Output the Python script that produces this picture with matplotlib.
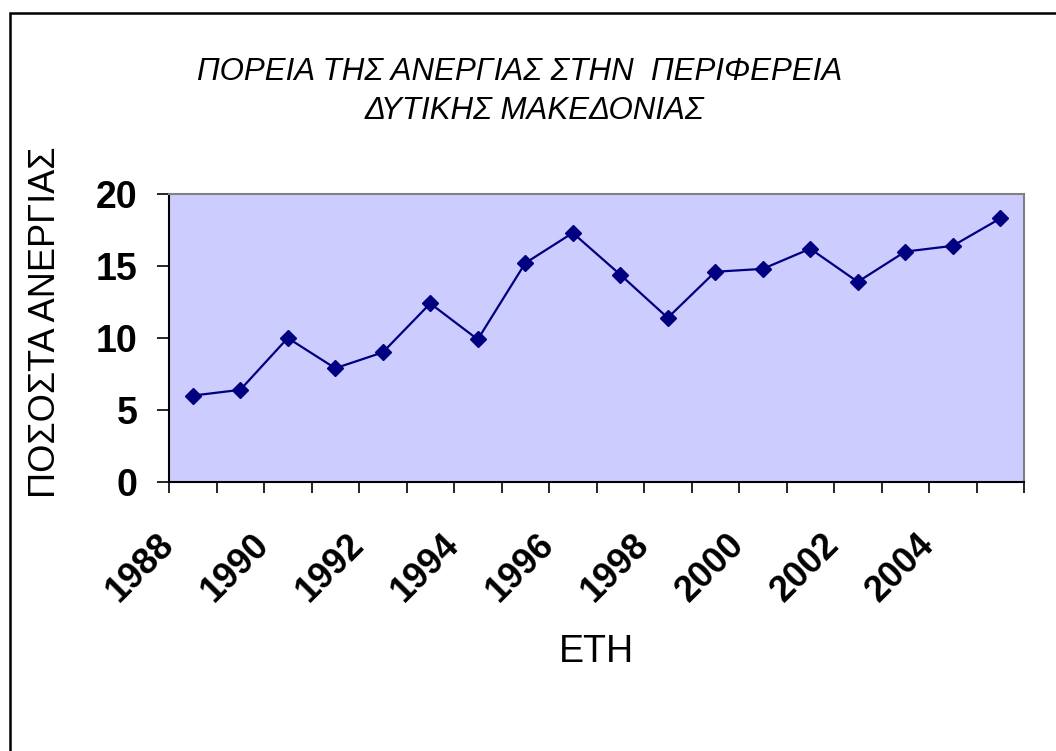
import matplotlib.pyplot as plt
from matplotlib.patches import Rectangle
from matplotlib.transforms import ScaledTranslation

plt.rcParams['font.family'] = ['Liberation Sans', 'DejaVu Sans']

years = list(range(1988, 2006))
unemployment = [6.0, 6.4, 10.0, 7.9, 9.0, 12.4, 9.9, 15.2, 17.3,
                14.4, 11.4, 14.6, 14.8, 16.2, 13.9, 16.0, 16.4, 18.3]
year_labels = [str(y) for y in years[::2]]
y_ticks = [0, 5, 10, 15, 20]

fig = plt.figure(figsize=(10.56, 7.51), dpi=100)
ax = fig.add_axes([169 / 1056, 1 - 482 / 751, 855 / 1056, 288 / 751])
ax.set_facecolor('#CCCCFF')

# categories sit between the tick marks, like an Excel category axis
xpos = [i + 0.5 for i in range(len(years))]
ax.plot(xpos, unemployment, color='#000080', lw=1.6, marker='D',
        markersize=8, markerfacecolor='#000080', markeredgecolor='#000080')

ax.set_xlim(0, len(years))
ax.set_ylim(0, 20)
ax.set_yticks(y_ticks)
ax.set_yticklabels([str(t) for t in y_ticks], fontsize=27, fontweight='bold')
ax.tick_params(axis='y', direction='out', length=8.5, width=1.2, pad=14)

ax.set_xticks(range(len(years) + 1))
ax.set_xticklabels([])
ax.tick_params(axis='x', which='major', direction='out', length=8, width=1.2)
ax.set_xticks(xpos[::2], minor=True)
ax.set_xticklabels(year_labels, minor=True, rotation=45, ha='right', va='top',
                   rotation_mode='anchor', fontsize=26, fontweight='bold')
ax.tick_params(axis='x', which='minor', length=0, pad=0)
off = ScaledTranslation(-0.36, -0.45, fig.dpi_scale_trans)
for lab in ax.get_xticklabels(minor=True):
    lab.set_transform(lab.get_transform() + off)

for side in ['left', 'bottom']:
    ax.spines[side].set_color('black')
    ax.spines[side].set_linewidth(1.5)
for side in ['top', 'right']:
    ax.spines[side].set_color('#808080')
    ax.spines[side].set_linewidth(1.5)

ax.set_ylabel('ΠΟΣΟΣΤΑ ΑΝΕΡΓΙΑΣ', fontsize=26, va='center')
ax.yaxis.set_label_coords(-0.144, 0.556)
ax.set_xlabel('ΕΤΗ', fontsize=27, va='center')
ax.xaxis.set_label_coords(0.5, -0.59)

fig.text(520 / 1056, 1 - 72 / 751, 'ΠΟΡΕΙΑ ΤΗΣ ΑΝΕΡΓΙΑΣ ΣΤΗΝ  ΠΕΡΙΦΕΡΕΙΑ',
         ha='center', va='center', fontsize=22.5, fontstyle='italic')
fig.text(534 / 1056, 1 - 111 / 751, 'ΔΥΤΙΚΗΣ ΜΑΚΕΔΟΝΙΑΣ',
         ha='center', va='center', fontsize=22.5, fontstyle='italic')

# outer chart frame, running off the right and bottom edges
fig.add_artist(Rectangle((10 / 1056, -0.1), 1.2, 1.1 - 13 / 751,
                         transform=fig.transFigure, fill=False,
                         edgecolor='black', lw=1.8, clip_on=False))

fig.savefig('out.png', dpi=100)
